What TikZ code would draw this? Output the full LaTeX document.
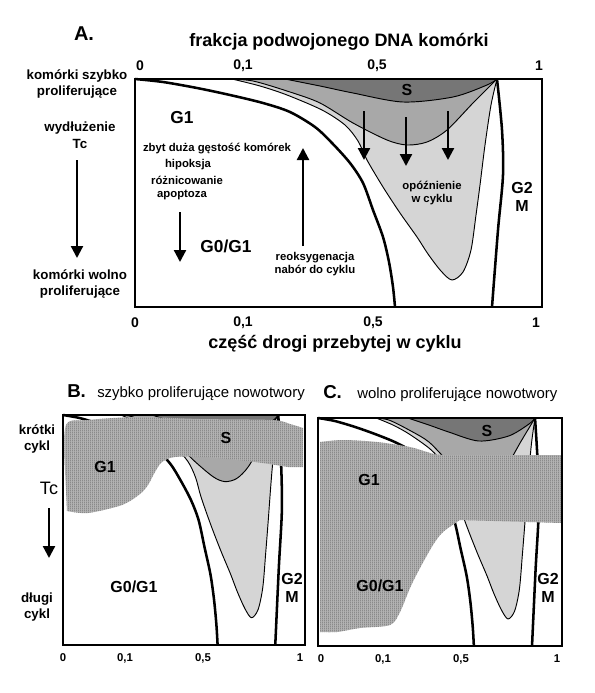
\documentclass[tikz,border=0pt]{standalone}
\usepackage{fontspec}
\setmainfont{Liberation Sans}
\usetikzlibrary{arrows.meta,patterns}
\definecolor{sgray}{RGB}{118,118,118}
\definecolor{mgray}{RGB}{168,168,168}
\definecolor{lgray}{RGB}{213,213,213}
\definecolor{hgray}{RGB}{178,178,178}
\definecolor{hline}{RGB}{118,118,118}
\pgfdeclarepatternformonly{finevlines}{\pgfqpoint{0pt}{0pt}}{\pgfqpoint{1.5pt}{1.5pt}}{\pgfqpoint{1.5pt}{1.5pt}}{\pgfpathrectangle{\pgfqpoint{0pt}{0pt}}{\pgfqpoint{0.7pt}{1.5pt}}\pgfusepath{fill}}
\tikzset{
  curvethick/.style={line width=1.9pt,line join=round},
  curvethin/.style={line width=0.7pt,line join=round},
  panelframe/.style={line width=1.1pt},
  arr/.style={line width=1.7pt,-{Triangle[length=9pt,width=9pt]}},
  biglbl/.style={font=\bfseries\fontsize{13}{15}\selectfont,inner sep=0pt,align=center},
  midlbl/.style={font=\bfseries\fontsize{12}{13.5}\selectfont,inner sep=0pt,align=center},
  titlelbl/.style={font=\bfseries\fontsize{13.5}{16}\selectfont,inner sep=0pt},
  smalllbl/.style={font=\bfseries\fontsize{8.5}{10}\selectfont,inner sep=0pt,align=center},
  sidelbl/.style={font=\bfseries\fontsize{10}{12.6}\selectfont,inner sep=0pt,align=center},
  ticklbl/.style={font=\bfseries\fontsize{10.5}{12}\selectfont,inner sep=0pt},
  tickB/.style={font=\bfseries\fontsize{8.5}{10}\selectfont,inner sep=0pt},
  subtitle/.style={font=\fontsize{11.2}{13}\selectfont,inner sep=0pt,anchor=base west},
  letterlbl/.style={font=\bfseries\fontsize{14}{16}\selectfont,inner sep=0pt,anchor=base west},
  hatch/.style={fill=hgray,postaction={pattern=finevlines,pattern color=hline}},
}
\newcommand\lgpts{(232,79) (260,86) (287,95) (322,110) (345,125) (358,141) (367,160) (383,187) (400,213) (417,237) (428,254) (441,271) (452,280) (463,272) (471,250) (476,215) (480,185) (485,145) (491,105) (497,79)}
\newcommand\mgpts{(227,79) (253,81) (290,92) (320,103) (353,123) (387,140) (407,145) (427,142) (447,130) (473,103) (493,83) (497,79)}
\newcommand\sgpts{(285,79) (320,86) (353,93) (403,102) (453,97) (487,85) (497,79)}
\newcommand\phaseshapes{%
  \fill[lgray] plot[smooth] coordinates {\lgpts} -- cycle;
  \fill[mgray] plot[smooth] coordinates {\mgpts} -- cycle;
  \fill[sgray] plot[smooth] coordinates {\sgpts} -- cycle;
  \draw[curvethin] plot[smooth] coordinates {\lgpts};
  \draw[curvethin] plot[smooth] coordinates {\mgpts};
  \draw[curvethin] plot[smooth] coordinates {\sgpts};
  \draw[curvethick] plot[smooth] coordinates {(135,79) (163,82) (197,88) (230,95) (263,103) (290,112) (315,127) (332,143) (350,163) (363,183) (373,210) (383,237) (389,262) (393,287) (395,307)};
  \draw[curvethick] plot[smooth] coordinates {(497,79) (502,130) (503,175) (498,230) (492,307)};
}
\begin{document}
\begin{tikzpicture}[x=0.75pt,y=-0.75pt]
\useasboundingbox (0,0) rectangle (594,693);

% ---------------- Panel A ----------------
\phaseshapes
\draw[panelframe] (135,79) rectangle (542,307);

\node[font=\bfseries\fontsize{15}{17}\selectfont,inner sep=0pt] (labA) at (84,34) {A.};
\node[titlelbl] (toptitle) at (339,42) {frakcja podwojonego DNA komórki};
\node[titlelbl] (bottitle) at (335,344) {część drogi przebytej w cyklu};

\node[ticklbl] (tA0) at (140,66) {0};
\node[ticklbl] (tA1) at (243,66) {0,1};
\node[ticklbl] (tA5) at (377,66) {0,5};
\node[ticklbl] (tA10) at (539,66) {1};
\node[ticklbl] (bA0) at (135,323) {0};
\node[ticklbl] (bA1) at (243,323) {0,1};
\node[ticklbl] (bA5) at (373,323) {0,5};
\node[ticklbl] (bA10) at (536,323) {1};

\node[sidelbl] (fast) at (77,84) {komórki szybko\\proliferujące};
\node[sidelbl] (elong) at (80,135) {wydłużenie\\Tc};
\node[sidelbl] (slow) at (80,284) {komórki wolno\\proliferujące};
\coordinate (la1) at (77,160);
\coordinate (la2) at (77,258);
\draw[arr] (la1) -- (la2);

\node[biglbl] (G1A) at (182,118) {G1};
\node[smalllbl] (dens) at (217,149) {zbyt duża gęstość komórek};
\node[smalllbl] (hyp) at (188,165) {hipoksja};
\node[smalllbl] (diff) at (187,180) {różnicowanie};
\node[smalllbl] (apo) at (182,195) {apoptoza};
\coordinate (ga1) at (180,212);
\coordinate (ga2) at (180,262);
\draw[arr] (ga1) -- (ga2);
\node[biglbl] (G0A) at (226,246) {G0/G1};

\coordinate (ua1) at (303,246);
\coordinate (ua2) at (303,148);
\draw[arr] (ua1) -- (ua2);
\node[smalllbl] (reox) at (315,258) {reoksygenacja};
\node[smalllbl] (recr) at (315,271) {nabór do cyklu};

\node[midlbl] (SA) at (407,90) {S};
\coordinate (d1a) at (364,111); \coordinate (d1b) at (364,160);
\coordinate (d2a) at (406,117); \coordinate (d2b) at (406,166);
\coordinate (d3a) at (448,111); \coordinate (d3b) at (448,160);
\draw[arr] (d1a) -- (d1b);
\draw[arr] (d2a) -- (d2b);
\draw[arr] (d3a) -- (d3b);
\node[smalllbl] (delay) at (432,193) {opóźnienie\\w cyklu};
\node[midlbl] (G2A) at (522,197) {G2\\M};

% ---------------- Panel B ----------------
\begin{scope}[shift={(63,415)},xscale=0.5946,yscale=1.0088,shift={(-135,-79)}]
  \phaseshapes
\end{scope}
\path[hatch] plot[smooth] coordinates {(65,470) (66,425) (88,420) (138,417) (200,419) (272,420) (290,424) (303,428)} -- (303,467) -- plot[smooth] coordinates {(288,467) (255,462) (205,457) (175,457) (162,462) (155,472) (148,485) (140,494) (122,505) (88,513) (67,511)} -- cycle;
\draw[panelframe] (63,415) rectangle (305,645);

\node[letterlbl] (labB) at (67,397) {B.};
\node[subtitle] (titB) at (97,397) {szybko proliferujące nowotwory};
\node[sidelbl] (shortc) at (37,439) {krótki\\cykl};
\node[font=\fontsize{13.5}{15}\selectfont,inner sep=0pt] (TcB) at (49,488) {Tc};
\coordinate (ba1) at (49,508);
\coordinate (ba2) at (49,558);
\draw[arr] (ba1) -- (ba2);
\node[sidelbl] (longc) at (37,607) {długi\\cykl};

\node[midlbl] (G1B) at (105,467) {G1};
\node[midlbl] (SB) at (226,438) {S};
\node[midlbl] (G0B) at (134,587) {G0/G1};
\node[midlbl] (G2B) at (292,588) {G2\\M};

\node[tickB] (tb0) at (63,658) {0};
\node[tickB] (tb1) at (125,658) {0,1};
\node[tickB] (tb5) at (203,658) {0,5};
\node[tickB] (tb10) at (300,658) {1};

% ---------------- Panel C ----------------
\begin{scope}[shift={(318,418)},xscale=0.5995,yscale=1.0,shift={(-135,-79)}]
  \phaseshapes
\end{scope}
\path[hatch] plot[smooth] coordinates {(320,442) (343,440) (377,442) (410,447) (427,452) (443,455) (500,455) (562,455)} -- (562,523) -- plot[smooth] coordinates {(460,520) (443,532) (433,545) (420,568) (410,588) (400,612) (390,625) (360,628) (337,632) (320,632)} -- cycle;
\draw[panelframe] (318,418) rectangle (562,646);

\node[letterlbl] (labC) at (323,398) {C.};
\node[subtitle] (titC) at (357,398) {wolno proliferujące nowotwory};

\node[midlbl] (G1C) at (369,480) {G1};
\node[midlbl] (SC) at (487,431) {S};
\node[midlbl] (G0C) at (380,586) {G0/G1};
\node[midlbl] (G2C) at (548,588) {G2\\M};

\node[tickB] (tc0) at (321,659) {0};
\node[tickB] (tc1) at (383,659) {0,1};
\node[tickB] (tc5) at (461,659) {0,5};
\node[tickB] (tc10) at (557,659) {1};
\end{tikzpicture}
\end{document}
